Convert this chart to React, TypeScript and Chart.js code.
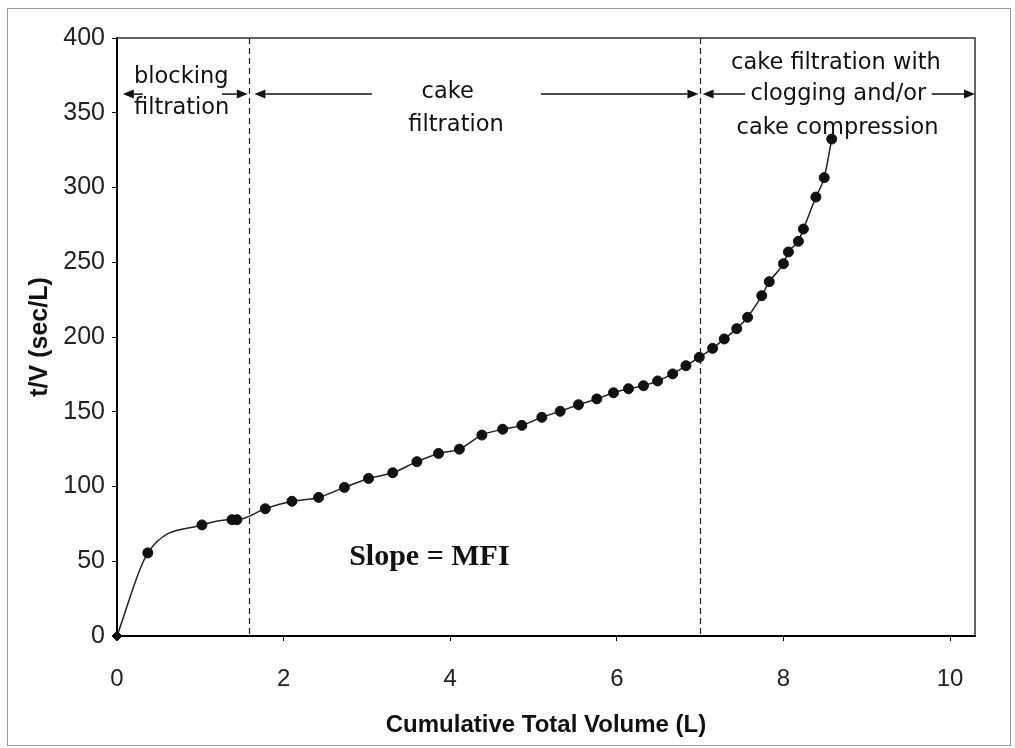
import React, { useEffect, useRef } from "react";
import { Chart, registerables } from "chart.js";

Chart.register(...registerables);

// ---- data ----
const volumeL = [
  0, 0.37, 1.02, 1.38, 1.44, 1.78, 2.1, 2.42, 2.73, 3.02, 3.31, 3.6, 3.86, 4.11,
  4.38, 4.63, 4.86, 5.1, 5.32, 5.54, 5.76, 5.96, 6.14, 6.32, 6.49, 6.67, 6.83,
  6.99, 7.15, 7.29, 7.44, 7.57, 7.74, 7.83, 8.0, 8.06, 8.18, 8.24, 8.39, 8.49,
  8.58,
];
const tvSecPerL = [
  0, 55.6, 74.3, 77.8, 77.8, 85.1, 90.1, 92.7, 99.4, 105.4, 109.2, 116.6, 122.1,
  125.0, 134.4, 138.3, 140.9, 146.3, 150.3, 154.7, 158.6, 162.7, 165.4, 167.4,
  170.6, 175.3, 180.8, 186.4, 192.4, 198.7, 205.6, 213.2, 227.6, 237.0, 249.0,
  256.9, 264.0, 272.2, 293.6, 306.6, 332.4,
];
const xTicks = [0, 2, 4, 6, 8, 10];
const yTicks = [0, 50, 100, 150, 200, 250, 300, 350, 400];
const regionBoundaries = [1.585, 7.0];

const xTitle = "Cumulative Total Volume (L)";
const yTitle = "t/V (sec/L)";

// annotation texts (data coordinates)
const regionLabels = [
  { text: "blocking", x: 0.204, y: 373.5, align: "left" },
  { text: "filtration", x: 0.204, y: 353, align: "left" },
  { text: "cake", x: 3.97, y: 363.5, align: "center" },
  { text: "filtration", x: 4.07, y: 342, align: "center" },
  { text: "cake filtration with", x: 8.63, y: 383.3, align: "center" },
  { text: "clogging and/or", x: 8.66, y: 362.2, align: "center" },
  { text: "cake compression", x: 8.65, y: 340, align: "center" },
];
const arrowY = 362.5;
// [tail, head] in x data units
const arrows = [
  [0.31, 0.07],
  [1.26, 1.57],
  [3.06, 1.65],
  [5.09, 6.98],
  [7.54, 7.03],
  [9.78, 10.3],
];
const slopeLabel = { text: "Slope = MFI", x: 3.75, y: 52.8 };

const annotationPlugin = {
  id: "annot",
  beforeDatasetsDraw(chart: any) {
    const { ctx, chartArea, scales } = chart;
    const xs = scales.x;
    ctx.save();
    ctx.strokeStyle = "#222";
    ctx.lineWidth = 1.2;
    ctx.setLineDash([6, 4]);
    regionBoundaries.forEach((v) => {
      const px = Math.round(xs.getPixelForValue(v)) + 0.5;
      ctx.beginPath();
      ctx.moveTo(px, chartArea.top);
      ctx.lineTo(px, chartArea.bottom);
      ctx.stroke();
    });
    ctx.setLineDash([]);
    // plot frame top/right
    ctx.strokeStyle = "#333";
    ctx.lineWidth = 1.5;
    ctx.beginPath();
    ctx.moveTo(chartArea.left, chartArea.top);
    ctx.lineTo(chartArea.right, chartArea.top);
    ctx.lineTo(chartArea.right, chartArea.bottom);
    ctx.stroke();
    ctx.restore();
  },
  afterDraw(chart: any) {
    const { ctx, scales, width, height } = chart;
    const xs = scales.x;
    const ys = scales.y;
    ctx.save();
    // arrows
    ctx.strokeStyle = "#111";
    ctx.fillStyle = "#111";
    ctx.lineWidth = 1.5;
    const py = ys.getPixelForValue(arrowY);
    arrows.forEach(([t, h]) => {
      const tx = xs.getPixelForValue(t);
      const hx = xs.getPixelForValue(h);
      const dir = hx > tx ? 1 : -1;
      const hl = 11;
      ctx.beginPath();
      ctx.moveTo(tx, py);
      ctx.lineTo(hx - dir * hl, py);
      ctx.stroke();
      ctx.beginPath();
      ctx.moveTo(hx, py);
      ctx.lineTo(hx - dir * hl, py - 4.5);
      ctx.lineTo(hx - dir * hl, py + 4.5);
      ctx.closePath();
      ctx.fill();
    });
    // region labels
    ctx.font = '22.5px "DejaVu Sans"';
    ctx.textBaseline = "middle";
    ctx.fillStyle = "#111";
    regionLabels.forEach((l) => {
      ctx.textAlign = l.align as CanvasTextAlign;
      ctx.fillText(l.text, xs.getPixelForValue(l.x), ys.getPixelForValue(l.y));
    });
    // slope label
    ctx.font = 'bold 30px "Liberation Serif"';
    ctx.textAlign = "center";
    ctx.fillText(
      slopeLabel.text,
      xs.getPixelForValue(slopeLabel.x),
      ys.getPixelForValue(slopeLabel.y)
    );
    // outer frame
    ctx.strokeStyle = "#999";
    ctx.lineWidth = 1;
    ctx.strokeRect(7.5, 8.5, width - 12, height - 11);
    ctx.restore();
  },
};

export default function App() {
  const ref = useRef<HTMLCanvasElement>(null);
  useEffect(() => {
    if (!ref.current) return;
    const chart = new Chart(ref.current, {
      type: "line",
      data: {
        datasets: [
          {
            data: volumeL.map((x, i) => ({ x, y: tvSecPerL[i] })),
            borderColor: "#222",
            borderWidth: 1.5,
            backgroundColor: "#111",
            pointBackgroundColor: "#111",
            pointBorderColor: "#111",
            pointBorderWidth: 1,
            pointRadius: 5,
            pointStyle: volumeL.map((_, i) => (i === 0 ? "rectRot" : "circle")),
            cubicInterpolationMode: "monotone",
            fill: false,
            clip: false,
          } as any,
        ],
      },
      options: {
        responsive: false,
        animation: false,
        devicePixelRatio: 1,
        layout: { padding: { left: 0, top: 38, right: 40, bottom: 0 } },
        plugins: {
          legend: { display: false },
          tooltip: { enabled: false },
          title: { display: false },
        },
        scales: {
          x: {
            type: "linear",
            min: 0,
            max: 10.3,
            afterBuildTicks: (s: any) => {
              s.ticks = xTicks.map((v) => ({ value: v }));
            },
            afterFit: (s: any) => {
              s.height = 112;
            },
            grid: {
              display: true,
              drawOnChartArea: false,
              drawTicks: true,
              tickLength: 5,
              color: "#000",
            },
            border: { display: true, color: "#000", width: 2 },
            ticks: {
              padding: 24,
              color: "#222",
              font: { family: "Liberation Sans", size: 24 },
              maxRotation: 0,
            },
            title: {
              display: true,
              text: xTitle,
              color: "#111",
              font: { family: "Liberation Sans", size: 24, weight: "bold" },
              padding: { top: 0, bottom: 8 },
            },
          },
          y: {
            type: "linear",
            min: 0,
            max: 400,
            afterBuildTicks: (s: any) => {
              s.ticks = yTicks.map((v) => ({ value: v }));
            },
            afterFit: (s: any) => {
              s.width = 117;
            },
            grid: {
              display: true,
              drawOnChartArea: false,
              drawTicks: true,
              tickLength: 5,
              color: "#000",
            },
            border: { display: true, color: "#000", width: 2 },
            ticks: {
              padding: 7,
              color: "#222",
              font: { family: "Liberation Sans", size: 25 },
            },
            title: {
              display: true,
              text: yTitle,
              color: "#111",
              font: { family: "Liberation Sans", size: 25, weight: "bold" },
              padding: { top: 25, bottom: 0 },
            },
          },
        },
      },
      plugins: [annotationPlugin],
    });
    return () => chart.destroy();
  }, []);
  return (
    <div
      style={{
        position: "absolute",
        left: 0,
        top: 0,
        width: 1015,
        height: 748,
        background: "#fff",
      }}
    >
      <canvas ref={ref} width={1015} height={748} style={{ display: "block" }} />
    </div>
  );
}
